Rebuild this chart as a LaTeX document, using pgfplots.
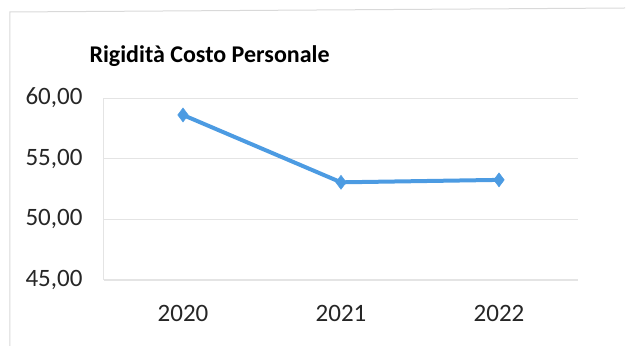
\documentclass[border=0pt]{standalone}
\usepackage{pgfplots}
\pgfplotsset{compat=1.18}
\usepackage{fontspec}
\setmainfont{Carlito}
\definecolor{lineblue}{HTML}{4C9BE2}
\definecolor{gridgray}{HTML}{E4E4E4}
\begin{document}
\begin{tikzpicture}[x=1pt,y=1pt]
\begin{axis}[
  scale only axis, width=474pt, height=182pt,
  xmin=-0.5, xmax=2.5, ymin=45, ymax=60,
  xtick={0,1,2}, xticklabels={2020,2021,2022},
  extra x ticks={-0.5,0.5,1.5,2.5}, extra x tick labels={},
  extra x tick style={major tick length=6pt, tick style={gridgray, line width=1pt}, grid=none},
  major x tick style={draw=none},
  ytick={45,50,55,60},
  ymajorgrids, grid style={gridgray, line width=0.8pt},
  major y tick style={draw=none},
  axis line style={gridgray, line width=1pt},
  axis x line*=bottom, axis y line*=left,
  tick label style={font=\fontsize{25}{29}\selectfont, text=black!85},
  /pgf/number format/use comma, /pgf/number format/fixed,
  /pgf/number format/fixed zerofill, /pgf/number format/precision=2,
  /pgf/number format/assume math mode=true,
  yticklabel style={xshift=-18pt},
  xticklabel style={yshift=-22pt},
  clip=false,
]
\addplot[color=lineblue, line width=4pt, mark=diamond*, mark size=7pt, mark options={fill=lineblue, line width=0.5pt}]
  coordinates {(0,58.6) (1,53.05) (2,53.25)};
\coordinate (O) at (rel axis cs:0,0);
\end{axis}
\path ([shift={(-104pt,-70pt)}]O) coordinate (BL) rectangle ++(632pt,350pt);
\draw[gray!30, line width=1pt] ([shift={(10pt,4pt)}]BL) -- ([shift={(10pt,338pt)}]BL) -- ([shift={(625pt,342pt)}]BL);
\node[anchor=west, font=\bfseries\fontsize{24}{28}\selectfont] at ([shift={(86pt,294pt)}]BL) {Rigidità Costo Personale};
\end{tikzpicture}
\end{document}
